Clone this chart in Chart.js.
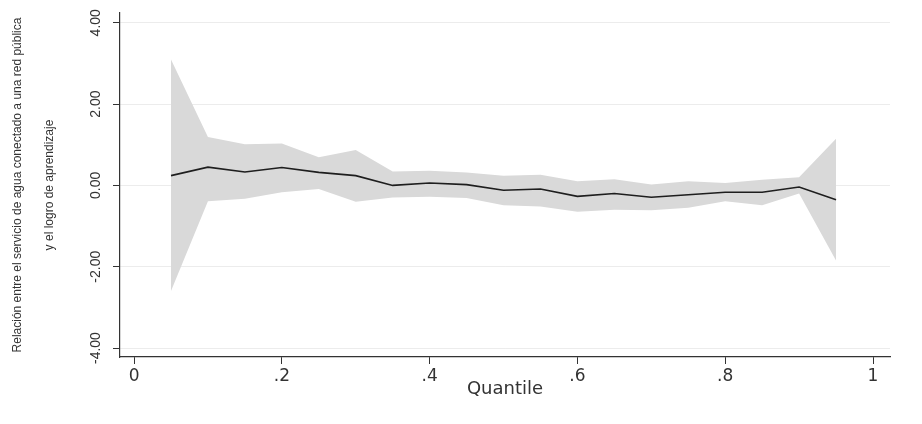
<!DOCTYPE html>
<html>
<head>
<meta charset="utf-8">
<script src="https://cdn.jsdelivr.net/npm/chart.js@4.4.1/dist/chart.umd.min.js"></script>
<style>
  html, body { margin: 0; padding: 0; background: #ffffff; }
  #wrap { width: 922px; height: 424px; position: relative; }
</style>
</head>
<body>
<div id="wrap"><canvas id="c" width="922" height="424"></canvas></div>
<script>
// ---- data ----
const quantiles = [0.05, 0.10, 0.15, 0.20, 0.25, 0.30, 0.35, 0.40, 0.45, 0.50,
                   0.55, 0.60, 0.65, 0.70, 0.75, 0.80, 0.85, 0.90, 0.95];
const coef  = [0.24, 0.45, 0.33, 0.44, 0.32, 0.24, 0.00, 0.06, 0.02, -0.12,
               -0.09, -0.27, -0.20, -0.29, -0.23, -0.17, -0.17, -0.04, -0.35];
const upper = [3.10, 1.19, 1.01, 1.03, 0.69, 0.87, 0.34, 0.36, 0.32, 0.24,
               0.26, 0.10, 0.15, 0.02, 0.10, 0.06, 0.14, 0.20, 1.15];
const lower = [-2.60, -0.39, -0.33, -0.17, -0.09, -0.40, -0.30, -0.28, -0.31, -0.49,
               -0.52, -0.65, -0.60, -0.61, -0.55, -0.39, -0.49, -0.20, -1.85];
const xTicks = [0, 0.2, 0.4, 0.6, 0.8, 1];
const xTickLabels = ['0', '.2', '.4', '.6', '.8', '1'];
const yTicks = [-4, -2, 0, 2, 4];
const yTickLabels = ['-4.00', '-2.00', '0.00', '2.00', '4.00'];
const yTitle = ['Relación entre el servicio de agua conectado a una red pública', 'y el logro de aprendizaje'];
const xTitle = 'Quantile';

const pts = arr => quantiles.map((q, i) => ({ x: q, y: arr[i] }));

new Chart(document.getElementById('c'), {
  type: 'line',
  data: {
    datasets: [
      { data: pts(upper), borderWidth: 0, pointRadius: 0, fill: '+1', order: 2,
        backgroundColor: '#d9d9d9', borderColor: 'rgba(0,0,0,0)', tension: 0 },
      { data: pts(lower), borderWidth: 0, pointRadius: 0, fill: false, order: 3,
        borderColor: 'rgba(0,0,0,0)', tension: 0 },
      { data: pts(coef), borderWidth: 1.6, pointRadius: 0, fill: false, order: 0,
        borderColor: '#1e1e1e', tension: 0 }
    ]
  },
  options: {
    responsive: false,
    animation: false,
    devicePixelRatio: 1,
    layout: { padding: { top: 13, right: 32, left: 0, bottom: 0 } },
    plugins: { legend: { display: false }, tooltip: { enabled: false } },
    scales: {
      x: {
        type: 'linear',
        min: -0.019,
        max: 1.023,
        afterBuildTicks: s => { s.ticks = xTicks.map(v => ({ value: v })); },
        afterFit: s => { s.height = 67; },
        ticks: {
          callback: (v) => { const i = xTicks.indexOf(v); return i >= 0 ? xTickLabels[i] : ''; },
          font: { family: 'DejaVu Sans', size: 17 },
          color: '#333333',
          padding: 2,
          maxRotation: 0
        },
        grid: { drawOnChartArea: false, drawTicks: true, tickLength: 7, tickColor: '#333333', tickWidth: 1 },
        border: { display: true, color: '#333333', width: 1.2 },
        title: {
          display: true, text: xTitle, color: '#333333',
          font: { family: 'DejaVu Sans', size: 18, lineHeight: 1.2 },
          padding: { top: 0, bottom: 24 }
        }
      },
      y: {
        type: 'linear',
        min: -4.22,
        max: 4.24,
        afterBuildTicks: s => { s.ticks = yTicks.map(v => ({ value: v })); },
        afterFit: s => { s.width = 120; },
        ticks: {
          callback: (v) => { const i = yTicks.indexOf(v); return i >= 0 ? yTickLabels[i] : ''; },
          font: { family: 'Liberation Sans', size: 14 },
          color: '#333333',
          minRotation: 90,
          maxRotation: 90,
          crossAlign: 'center',
          padding: 1
        },
        grid: { color: '#ececec', lineWidth: 1, drawTicks: true, tickLength: 7, tickColor: '#333333', tickWidth: 1 },
        border: { display: true, color: '#333333', width: 1.2 },
        title: {
          display: true, text: yTitle, color: '#333333',
          font: { family: 'Liberation Sans', size: 12, lineHeight: '32px' },
          padding: { top: 2, bottom: 0 }
        }
      }
    }
  }
});
</script>
</body>
</html>
